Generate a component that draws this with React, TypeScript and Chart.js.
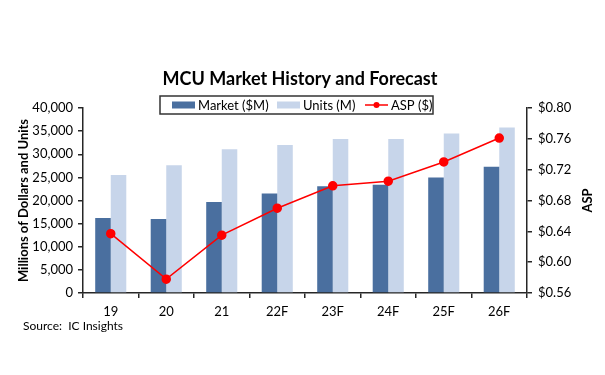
import React, { useEffect, useRef } from "react";
import { Chart, registerables } from "chart.js";

Chart.register(...registerables);

const categories = ["19", "20", "21", "22F", "23F", "24F", "25F", "26F"];
const marketValues = [16200, 16000, 19700, 21500, 23100, 23400, 25000, 27300];
const unitsValues = [25500, 27600, 31100, 32000, 33300, 33300, 34500, 35800];
const aspValues = [0.637, 0.578, 0.635, 0.67, 0.699, 0.705, 0.73, 0.761];

const titleText = "MCU Market History and Forecast";
const sourceText = "Source:  IC Insights";
const rightAxisTitle = "ASP";
const FONT = "Lato, 'Open Sans', sans-serif";

const overlayPlugin = {
  id: "overlay",
  afterDraw(chart: any) {
    const ctx = chart.ctx;
    ctx.save();
    // Title
    ctx.fillStyle = "#000";
    ctx.font = `bold 18px ${FONT}`;
    ctx.textAlign = "center";
    ctx.textBaseline = "middle";
    ctx.fillText(titleText, 300, 79);

    // Right axis title (reads bottom-to-top)
    const a = chart.chartArea;
    ctx.save();
    ctx.translate(588, (a.top + a.bottom) / 2);
    ctx.rotate(-Math.PI / 2);
    ctx.font = `bold 13px ${FONT}`;
    ctx.textAlign = "center";
    ctx.textBaseline = "middle";
    ctx.fillText(rightAxisTitle, 0, 0);
    ctx.restore();

    // Legend box
    const bx = 160, by = 96, bw = 273, bh = 18;
    ctx.fillStyle = "#fff";
    ctx.fillRect(bx, by, bw, bh);
    ctx.strokeStyle = "#333";
    ctx.lineWidth = 1.5;
    ctx.strokeRect(bx, by, bw, bh);
    ctx.font = `13px ${FONT}`;
    ctx.textAlign = "left";
    ctx.textBaseline = "middle";
    const cy = by + bh / 2;
    const ds = chart.data.datasets;
    const itemX = [172, 277, 365];
    ds.forEach((d: any, i: number) => {
      const x = itemX[i];
      if (d.type === "line") {
        ctx.strokeStyle = d.borderColor;
        ctx.lineWidth = 1.5;
        ctx.beginPath();
        ctx.moveTo(x, cy);
        ctx.lineTo(x + 23, cy);
        ctx.stroke();
        ctx.fillStyle = d.pointBackgroundColor;
        ctx.beginPath();
        ctx.arc(x + 11.5, cy, 3, 0, Math.PI * 2);
        ctx.fill();
      } else {
        ctx.fillStyle = d.backgroundColor;
        ctx.fillRect(x, cy - 3.5, 23, 7);
      }
      ctx.fillStyle = "#000";
      ctx.fillText(d.label, x + 26, cy + 0.5);
    });

    // Source
    ctx.font = `12px ${FONT}`;
    ctx.textAlign = "left";
    ctx.fillStyle = "#000";
    ctx.fillText(sourceText, 23, 326);
    ctx.restore();
  },
};

export default function App() {
  const ref = useRef<HTMLCanvasElement>(null);
  useEffect(() => {
    if (!ref.current) return;
    const axisColor = "#262626";
    const chart = new Chart(ref.current, {
      type: "bar",
      data: {
        labels: categories,
        datasets: [
          {
            type: "bar",
            label: "Market ($M)",
            data: marketValues,
            backgroundColor: "#4A6F9F",
            yAxisID: "y",
            order: 1,
            barPercentage: 1,
            categoryPercentage: 0.56,
          },
          {
            type: "bar",
            label: "Units (M)",
            data: unitsValues,
            backgroundColor: "#C7D5EA",
            yAxisID: "y",
            order: 1,
            barPercentage: 1,
            categoryPercentage: 0.56,
          },
          {
            type: "line",
            label: "ASP ($)",
            data: aspValues,
            borderColor: "#FF0000",
            backgroundColor: "#FF0000",
            pointBackgroundColor: "#FF0000",
            pointBorderColor: "#FF0000",
            pointRadius: 4,
            borderWidth: 1.5,
            yAxisID: "y1",
            order: 0,
          } as any,
        ],
      },
      options: {
        responsive: false,
        animation: false,
        layout: { padding: { top: 108, left: 0, right: 0, bottom: 0 } },
        plugins: {
          legend: { display: false },
          title: { display: false },
          tooltip: { enabled: false },
        },
        scales: {
          x: {
            offset: true,
            grid: {
              display: true,
              drawOnChartArea: false,
              drawTicks: true,
              tickLength: 5,
              color: axisColor,
              lineWidth: 1.5,
              offset: true,
            },
            border: { color: axisColor, width: 1.5 },
            ticks: {
              color: "#000",
              padding: 6,
              font: { family: FONT, size: 13 },
            },
            afterFit(scale: any) {
              scale.height = 82;
            },
          },
          y: {
            position: "left",
            min: 0,
            max: 40000,
            grid: {
              drawOnChartArea: false,
              drawTicks: true,
              tickLength: 5,
              color: axisColor,
              lineWidth: 1.5,
            },
            border: { color: axisColor, width: 1.5 },
            ticks: {
              stepSize: 5000,
              color: "#000",
              padding: 5,
              font: { family: FONT, size: 13 },
              callback: (v: any) => Number(v).toLocaleString("en-US"),
            },
            title: {
              display: true,
              text: "Millions of Dollars and Units",
              color: "#000",
              font: { family: FONT, size: 13, weight: "bold" },
              padding: { top: 16, bottom: 0 },
            },
            afterFit(scale: any) {
              scale.width = 83;
            },
          },
          y1: {
            position: "right",
            min: 0.56,
            max: 0.8,
            grid: {
              drawOnChartArea: false,
              drawTicks: true,
              tickLength: 5,
              color: axisColor,
              lineWidth: 1.5,
            },
            border: { color: axisColor, width: 1.5 },
            ticks: {
              stepSize: 0.04,
              color: "#000",
              padding: 6,
              font: { family: FONT, size: 13 },
              callback: (v: any) => "$" + Number(v).toFixed(2),
            },
            afterFit(scale: any) {
              scale.width = 78;
            },
          },
        },
      } as any,
      plugins: [overlayPlugin],
    });
    return () => chart.destroy();
  }, []);
  return (
    <div style={{ position: "absolute", left: 0, top: 0, width: 605, height: 375, background: "#fff" }}>
      <canvas ref={ref} width={605} height={375} style={{ display: "block" }} />
    </div>
  );
}
